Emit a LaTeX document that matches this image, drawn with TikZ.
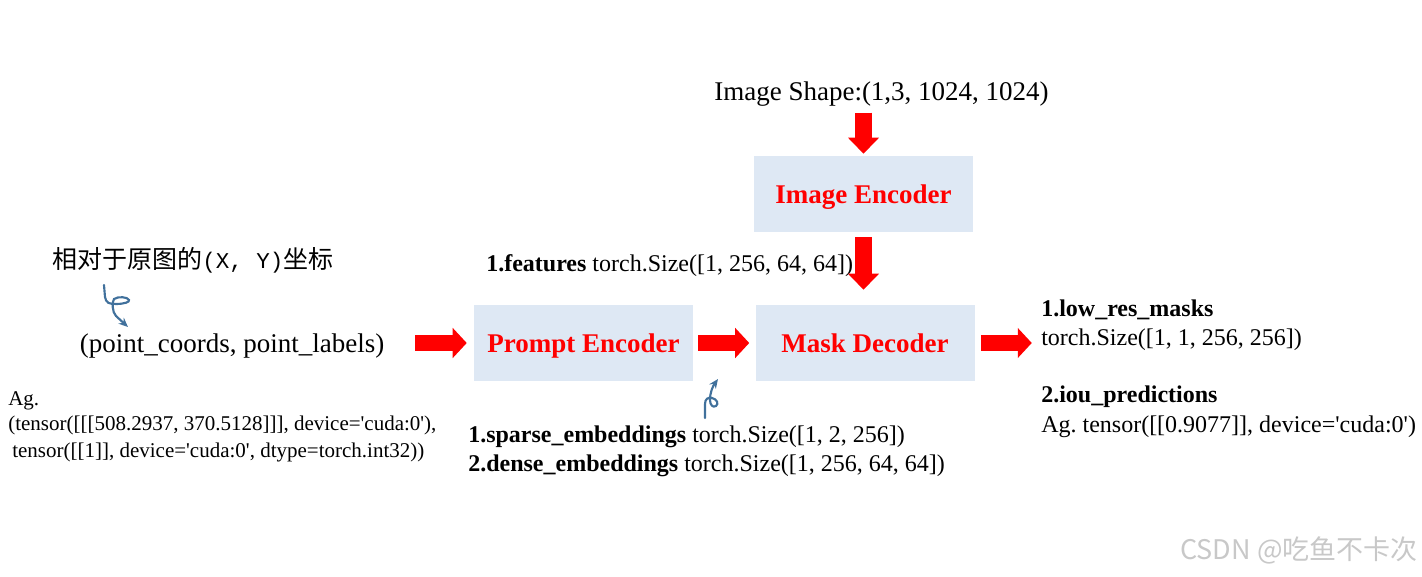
\documentclass[tikz,border=0pt]{standalone}
\usepackage{fontspec}
\setmainfont{Liberation Serif}
\setmonofont{Liberation Mono}
\newfontfamily\cjk{Noto Sans CJK SC}
\usetikzlibrary{arrows.meta}
\definecolor{boxblue}{HTML}{DEE8F4}
\definecolor{curlblue}{HTML}{41719C}
\definecolor{wmgray}{HTML}{C8C8C8}
\newcommand\sq{\textquotesingle}
\frenchspacing
\tikzset{
 box/.style={fill=boxblue, minimum width=164.25pt, minimum height=57pt, inner sep=0pt, text=red, text height=15pt, text depth=0pt, font=\fontsize{20.25}{24}\selectfont\bfseries},
 big/.style={inner sep=0pt, anchor=base, font=\fontsize{20.25}{24}\selectfont},
 mid/.style={inner sep=0pt, anchor=base west, font=\fontsize{18}{21}\selectfont},
 small/.style={inner sep=0pt, anchor=base west, font=\fontsize{15.75}{19}\selectfont},
 rarrow/.style={red, line width=11.5pt, -{Triangle[length=10.5pt,width=22pt]}},
 darrow/.style={red, line width=12.75pt, -{Triangle[length=12pt,width=22.5pt]}},
 curl/.style={curlblue, line width=1.6pt, line cap=round, -{Stealth[length=7pt,width=6pt]}},
}
\begin{document}
\begin{tikzpicture}[x=0.75pt,y=-0.75pt]
\useasboundingbox (0,0) rectangle (1422,577);
% boxes
\node[box] (ie) at (863.5,194) {Image Encoder};
\node[box] (pe) at (583.5,343) {Prompt Encoder};
\node[box] (md) at (865,343) {Mask Decoder};
% texts
\node[big] (shape) at (881.5,101) {Image Shape:(1,3, 1024, 1024)};
\node[inner sep=0pt, anchor=west, font=\cjk\fontsize{18.75}{22}\selectfont] (cn) at (52,260) {相对于原图的{\ttfamily\fontsize{16.9}{20}\selectfont(X,\ Y)}坐标};
\node[big] (pts) at (232,353) {(point\_coords, point\_labels)};
\node[small] (ag1) at (8,406) {Ag.};
\node[small] (ag2) at (8,431) {(tensor([[[508.2937, 370.5128]]], device=\sq cuda:0\sq),};
\node[small] (ag3) at (12,457) {tensor([[1]], device=\sq cuda:0\sq, dtype=torch.int32))};
\node[mid] (feat) at (486,272) {\textbf{1.features} torch.Size([1, 256, 64, 64])};
\node[mid] (sparse) at (468,443) {\textbf{1.sparse\_embeddings} torch.Size([1, 2, 256])};
\node[mid] (dense) at (468,471) {\textbf{2.dense\_embeddings} torch.Size([1, 256, 64, 64])};
\node[mid] (low) at (1041,317) {\textbf{1.low\_res\_masks}};
\node[mid] (lows) at (1041,346) {torch.Size([1, 1, 256, 256])};
\node[mid] (iou) at (1041,403) {\textbf{2.iou\_predictions}};
\node[mid] (ious) at (1041,432) {Ag.\ tensor([[0.9077]], device=\sq cuda:0\sq)};
\node[inner sep=0pt, anchor=west, text=wmgray, font=\cjk\fontsize{20.25}{24}\selectfont] (wm) at (1180,550) {CSDN @吃鱼不卡次};
% block arrows
\draw[darrow] ([yshift=32.25pt]ie.north) -- ([yshift=1.5pt]ie.north);
\draw[darrow] ([yshift=-3.75pt]ie.south) -- ([yshift=11.25pt]ie.south |- md.north);
\draw[rarrow] (415,0 |- pe.center) -- ([xshift=-5.25pt]pe.west);
\draw[rarrow] ([xshift=3.75pt]pe.east) -- ([xshift=-4.5pt]md.west);
\draw[rarrow] ([xshift=4.5pt]md.east) -- ([xshift=42.75pt]md.east);
% curly arrows
\coordinate (c1s) at (104,285);
\coordinate (c1e) at (128,327);
\draw[curl] (c1s) -- (105,297) .. controls (106,303) and (109,304) .. (116,304)
  .. controls (124,304) and (130,302) .. (129,300)
  .. controls (128,297) and (118,296) .. (114,299)
  .. controls (112,302) and (112,312) .. (116,316) -- (c1e);
\coordinate (c2s) at (705,418);
\coordinate (c2e) at (718,379);
\draw[curl] (c2s) -- (705,404) .. controls (705,399) and (708,397) .. (712,398)
  .. controls (717,399) and (719,404) .. (716,406)
  .. controls (713,408) and (710,405) .. (710,400)
  .. controls (710,392) and (713,386) .. (c2e);
\end{tikzpicture}
\end{document}
